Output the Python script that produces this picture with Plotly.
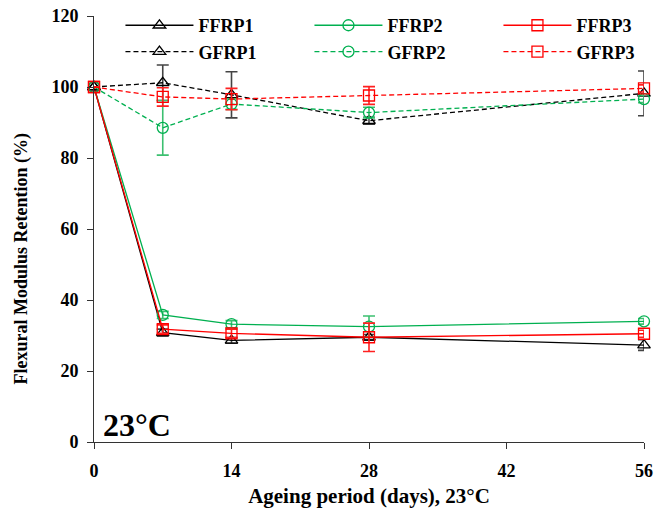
import plotly.graph_objects as go

days = [0, 7, 14, 28, 56]

ffrp1 = [100, 30.8, 28.6, 29.5, 27.3]
ffrp1_err = [0, 1.0, 0.8, 0.8, 1.5]
ffrp2 = [100, 35.8, 33.2, 32.5, 34.0]
ffrp2_err = [0, 1.0, 1.0, 3.0, 0.8]
ffrp3 = [100, 31.8, 30.6, 29.5, 30.5]
ffrp3_err = [0, 1.2, 1.2, 4.0, 1.0]

gfrp1 = [100, 101.2, 97.8, 90.5, 98.2]
gfrp1_err = [0, 5.0, 6.5, 1.0, 6.3]
gfrp2 = [100, 88.5, 95.2, 92.8, 96.6]
gfrp2_err = [0, 7.7, 1.5, 1.5, 1.0]
gfrp3 = [100, 97.2, 96.6, 97.6, 99.6]
gfrp3_err = [0, 2.6, 3.0, 2.5, 1.0]

x_ticks = [0, 14, 28, 42, 56]
y_ticks = [0, 20, 40, 60, 80, 100, 120]

BLACK = "#000000"
GREEN = "#00b050"
RED = "#ff0000"

series = [
    ("FFRP1", ffrp1, ffrp1_err, BLACK, "triangle-up-open", "solid"),
    ("FFRP2", ffrp2, ffrp2_err, GREEN, "circle-open", "solid"),
    ("FFRP3", ffrp3, ffrp3_err, RED, "square-open", "solid"),
    ("GFRP1", gfrp1, gfrp1_err, BLACK, "triangle-up-open", "5px,3px"),
    ("GFRP2", gfrp2, gfrp2_err, GREEN, "circle-open", "5px,3px"),
    ("GFRP3", gfrp3, gfrp3_err, RED, "square-open", "5px,3px"),
]

ERR_COL = {BLACK: "#444444", GREEN: "#3cc070", RED: "#ff2020"}

fig = go.Figure()
for name, vals, errs, color, sym, dash in series:
    fig.add_trace(go.Scatter(
        x=days, y=vals, name=f"<b>{name}</b>", mode="lines+markers",
        line=dict(color=color, width=1.3, dash=dash),
        marker=dict(symbol=sym, size=11, color=color, line=dict(width=1.3, color=color)),
        error_y=dict(type="data", array=errs, visible=True, color=ERR_COL[color],
                     thickness=1.6, width=6),
        cliponaxis=False,
    ))

fig.add_annotation(x=0.0127, y=-0.007, xref="paper", yref="paper",
                   text="<b>23°C</b>", showarrow=False,
                   xanchor="left", yanchor="bottom",
                   font=dict(family="Liberation Serif", size=32, color="black"))

# y-axis title (placed as rotated text, slightly below the axis centre as in the reference)
fig.add_annotation(x=-0.1327, y=0.431, xref="paper", yref="paper",
                   text="<b>Flexural Modulus Retention (%)</b>", showarrow=False,
                   textangle=-90, xanchor="center", yanchor="middle",
                   font=dict(family="Liberation Serif", size=18, color="black"))

axis_font = dict(family="Liberation Serif", size=18, color="black")
fig.update_layout(
    width=667, height=516,
    margin=dict(l=94, r=23, t=16, b=74, autoexpand=False),
    paper_bgcolor="white", plot_bgcolor="white",
    font=dict(family="Liberation Serif", color="black"),
    showlegend=True,
    legend=dict(orientation="h", x=-0.001, y=1.021, xanchor="left", yanchor="top",
                indentation=27, itemwidth=68,
                entrywidth=79, entrywidthmode="pixels",
                font=dict(family="Liberation Serif", size=18, color="black"),
                bgcolor="rgba(0,0,0,0)", tracegroupgap=0),
    xaxis=dict(range=[0, 56], tickvals=x_ticks, ticktext=[f"<b>{v}</b>" for v in x_ticks],
               showgrid=False, zeroline=False, showline=True, linecolor="#333333", linewidth=1,
               ticks="outside", ticklen=6, tickcolor="#333333", tickfont=axis_font,
               ticklabelstandoff=6, ticklabeloverflow="allow",
               title=dict(text="<b>Ageing period (days), 23°C</b>",
                          font=dict(family="Liberation Serif", size=21, color="black"), standoff=8),
               ),
    yaxis=dict(range=[0, 120], tickvals=y_ticks, ticktext=[f"<b>{v}</b>" for v in y_ticks],
               showgrid=False, zeroline=False, showline=True, linecolor="#333333", linewidth=1,
               ticks="outside", ticklen=6, tickcolor="#333333", tickfont=axis_font,
               ticklabelstandoff=5, ticklabeloverflow="allow"),
)

fig.write_html("out.html", config={"displayModeBar": False},
               post_script="document.body.style.margin='0';")
